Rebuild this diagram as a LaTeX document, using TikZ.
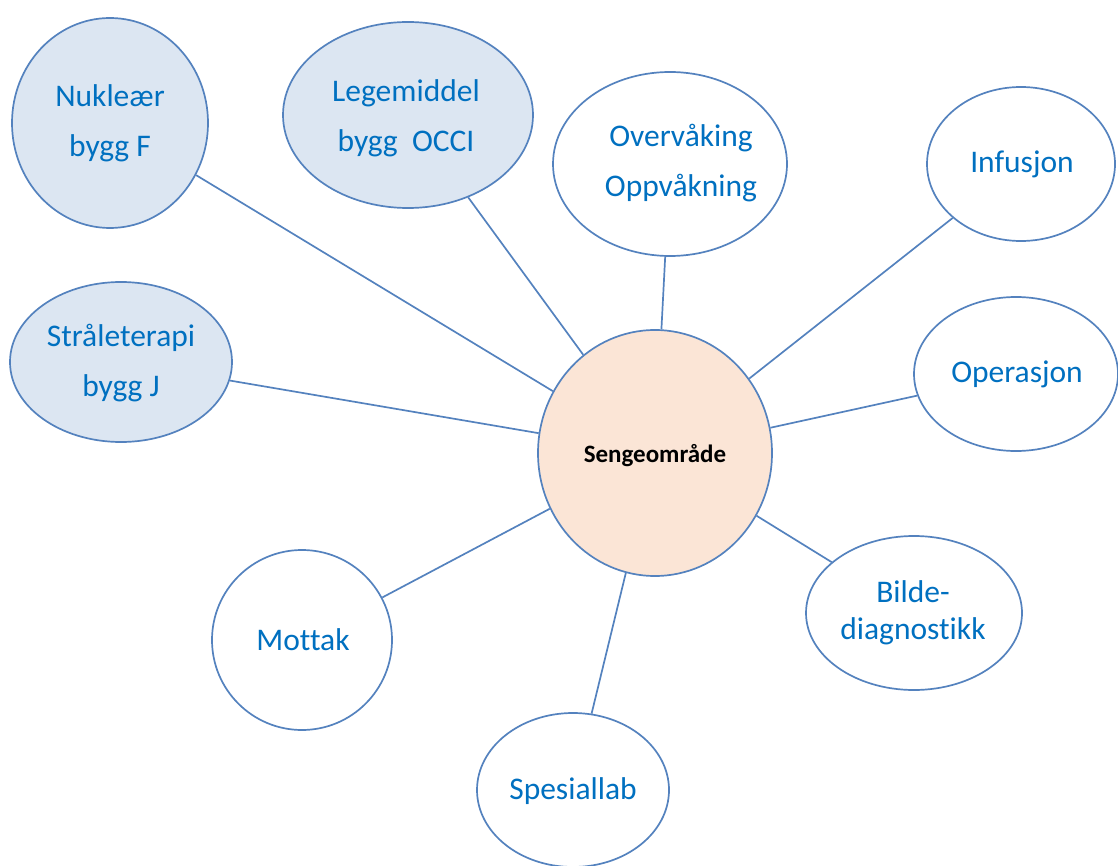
\documentclass[tikz,border=0pt]{standalone}
\usepackage{fontspec}
\setmainfont{Carlito}[Ligatures=NoCommon]
\usetikzlibrary{shapes.geometric}
\definecolor{edgeblue}{RGB}{84,130,190}
\definecolor{textblue}{RGB}{0,112,192}
\definecolor{fillblue}{RGB}{220,230,242}
\definecolor{fillpeach}{RGB}{251,229,214}
\tikzset{
  bubble/.style={ellipse, draw=edgeblue, line width=1.7pt, inner sep=0pt, fill=white},
  blue bubble/.style={bubble, fill=fillblue},
  hub/.style={bubble, fill=fillpeach},
  lbl/.style={text=textblue, align=center, inner sep=0pt, font=\fontsize{31.5}{50}\selectfont},
  hublbl/.style={text=black, inner sep=0pt, font=\fontsize{25}{28}\selectfont\bfseries},
  link/.style={draw=edgeblue, line width=1.7pt}
}
\begin{document}
\begin{tikzpicture}[x=1pt,y=-1pt]
\useasboundingbox (0,0) rectangle (1118,866);
% ellipses
\node[blue bubble, minimum width=196pt, minimum height=210pt] (nuk) at (110,123) {};
\node[blue bubble, minimum width=250pt, minimum height=186pt] (leg) at (408,115) {};
\node[bubble, minimum width=234pt, minimum height=184pt] (ovr) at (670,164) {};
\node[bubble, minimum width=188pt, minimum height=154pt] (inf) at (1021,164) {};
\node[blue bubble, minimum width=222pt, minimum height=160pt] (str) at (121,362) {};
\node[bubble, minimum width=204pt, minimum height=154pt] (ope) at (1016,374) {};
\node[hub, minimum width=234pt, minimum height=246pt] (sen) at (655,453) {};
\node[bubble, minimum width=180pt, minimum height=180pt] (mot) at (302,640) {};
\node[bubble, minimum width=216pt, minimum height=154pt] (bil) at (914,613) {};
\node[bubble, minimum width=192pt, minimum height=154pt] (spe) at (573,790) {};
% connectors
\path[link] (nuk) -- (sen);
\path[link] (leg) -- (sen);
\path[link] (ovr) -- (sen);
\path[link] (inf) -- (sen);
\path[link] (str) -- (sen);
\path[link] (ope) -- (sen);
\path[link] (mot) -- (sen);
\path[link] (bil) -- (sen);
\path[link] (spe) -- (sen);
% labels
\node[lbl] (tnuk) at (110,123) {Nukleær\\bygg F};
\node[lbl] (tleg) at (406,118) {Legemiddel\\bygg\ \ OCCI};
\node[lbl] (tovr) at (681,163) {Overvåking\\Oppvåkning};
\node[lbl] (tinf) at (1022,164) {Infusjon};
\node[lbl] (tstr) at (121,363) {Stråleterapi\\bygg J};
\node[lbl] (tope) at (1017,374) {Operasjon};
\node[hublbl] (tsen) at (655,456) {Sengeområde};
\node[lbl] (tmot) at (303,640) {Mottak};
\node[lbl, font=\fontsize{31.5}{37}\selectfont] (tbil) at (913,613) {Bilde-\\diagnostikk};
\node[lbl] (tspe) at (573,791) {Spesiallab};
\end{tikzpicture}
\end{document}
